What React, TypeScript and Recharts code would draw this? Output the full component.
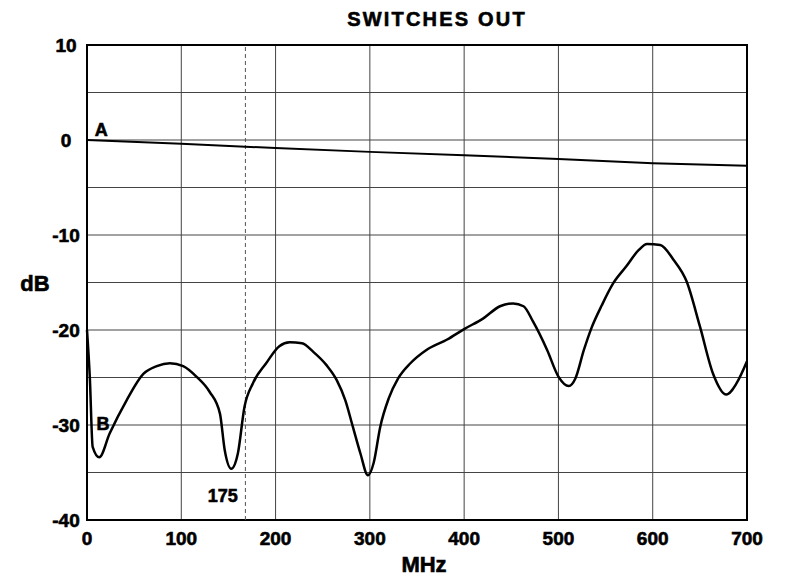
import React from 'react';
import {
  LineChart,
  Line,
  XAxis,
  YAxis,
  CartesianGrid,
  ReferenceLine,
  ReferenceDot,
  ReferenceArea,
  Label,
} from 'recharts';

// curve A: through loss, switches out
const freqA = [0, 100, 200, 300, 400, 500, 600, 700];
const dbA = [0, -0.4, -0.85, -1.25, -1.6, -2.0, -2.45, -2.7];

// curve B: return loss
const freqB = [
  0, 3, 6, 13, 24, 42, 60, 74, 88, 102, 116, 130, 141, 146, 153, 160, 167, 176, 190, 204,
  215, 228, 240, 254, 265, 274, 282, 290, 298, 304, 311, 320, 330, 343, 360, 382, 400, 420,
  438, 452, 463, 473, 488, 500, 511, 518, 527, 535, 546, 558, 572, 585, 594, 608, 622, 636,
  650, 664, 678, 689, 700,
];
const dbB = [
  -20, -25, -32.3, -33.4, -30.9, -27.4, -24.6, -23.8, -23.5, -23.8, -24.9, -26.5, -28.8,
  -32.6, -34.6, -33, -28.1, -25.6, -23.5, -21.7, -21.3, -21.4, -22.3, -23.7, -25.3, -27.4,
  -30.2, -33, -35.3, -34, -30.2, -27.2, -25.1, -23.5, -22.1, -21, -19.9, -18.8, -17.5, -17.2,
  -17.5, -19.1, -22.1, -24.9, -25.9, -25.1, -22.1, -19.8, -17.4, -15.1, -13.3, -11.6, -10.95,
  -11.05, -12.6, -14.9, -19.6, -24.6, -26.8, -25.6, -23.3,
];

const xTicks = [0, 100, 200, 300, 400, 500, 600, 700];
const yTicks = [-40, -35, -30, -25, -20, -15, -10, -5, 0, 5, 10];
const yLabelTicks = [-40, -30, -20, -10, 0, 10];

const markerFreq = 168;
const markerLabel = '175';

const dataA = freqA.map((f, i) => ({ mhz: f, db: dbA[i] }));
const dataB = freqB.map((f, i) => ({ mhz: f, db: dbB[i] }));

const FONT = '"Liberation Sans", Arial, Helvetica, sans-serif';
const heavy = { stroke: '#000', strokeWidth: 0.6, paintOrder: 'stroke' } as const;

function YTick(props: any) {
  const { x, y, payload } = props;
  if (!yLabelTicks.includes(payload.value)) return null;
  return (
    <text x={x - 19} y={y + 6.8} textAnchor="middle" fontSize={19} fontWeight="bold" fill="#000" {...heavy}>
      {payload.value}
    </text>
  );
}

function XTick(props: any) {
  const { x, y, payload } = props;
  return (
    <text x={x} y={y + 23} textAnchor="middle" fontSize={19} fontWeight="bold" fill="#000" {...heavy}>
      {payload.value}
    </text>
  );
}

const textLabel = (value: string) => (
  <Label
    value={value}
    position="center"
    fill="#000"
    fontSize={18}
    fontWeight="bold"
    stroke="#000"
    strokeWidth={0.6}
  />
);

export default function App() {
  return (
    <div style={{ position: 'absolute', left: 0, top: 0, width: 787, height: 577, fontFamily: FONT, background: '#fff' }}>
      <div
        style={{
          position: 'absolute',
          left: 287,
          top: 9,
          width: 300,
          textAlign: 'center',
          fontSize: 20,
          fontWeight: 'bold',
          lineHeight: '20px',
          letterSpacing: 2.2,
          WebkitTextStroke: '0.6px #000',
        }}
      >
        SWITCHES OUT
      </div>
      <LineChart width={787} height={577} margin={{ top: 45, right: 40, bottom: 0, left: 0 }} style={{ fontFamily: FONT }}>
        <CartesianGrid stroke="#444" strokeWidth={1} />
        <XAxis
          type="number"
          dataKey="mhz"
          domain={[0, 700]}
          ticks={xTicks}
          height={57}
          tickLine={false}
          axisLine={false}
          tickSize={0}
          tick={<XTick />}
          allowDuplicatedCategory={false}
          label={{
            content: (p: any) => {
              const vb = p.viewBox;
              return (
                <text x={vb.x + vb.width / 2 + 7} y={vb.y + 52} textAnchor="middle" fontSize={22} fontWeight="bold" fill="#000" {...heavy}>
                  MHz
                </text>
              );
            },
          }}
        />
        <YAxis
          type="number"
          domain={[-40, 10]}
          ticks={yTicks}
          width={87}
          tickLine={false}
          axisLine={false}
          tickSize={0}
          tick={<YTick />}
          interval={0}
          label={{
            content: (p: any) => {
              const vb = p.viewBox;
              return (
                <text x={35} y={vb.y + vb.height / 2 + 8} textAnchor="middle" fontSize={22} fontWeight="bold" fill="#000" {...heavy}>
                  dB
                </text>
              );
            },
          }}
        />
        <ReferenceLine x={markerFreq} stroke="#555" strokeWidth={1} strokeDasharray="4 3" />
        <ReferenceArea x1={0} x2={700} y1={-40} y2={10} fill="none" stroke="#000" strokeWidth={2} />
        <Line
          data={dataA}
          dataKey="db"
          type="linear"
          stroke="#000"
          strokeWidth={2}
          dot={false}
          isAnimationActive={false}
        />
        <Line
          data={dataB}
          dataKey="db"
          type="monotone"
          stroke="#000"
          strokeWidth={2.5}
          dot={false}
          isAnimationActive={false}
        />
        <ReferenceDot x={15} y={1.05} r={0} fill="none" stroke="none" label={textLabel('A')} />
        <ReferenceDot x={17} y={-29.9} r={0} fill="none" stroke="none" label={textLabel('B')} />
        <ReferenceDot x={144} y={-37.4} r={0} fill="none" stroke="none" label={textLabel(markerLabel)} />
      </LineChart>
    </div>
  );
}
